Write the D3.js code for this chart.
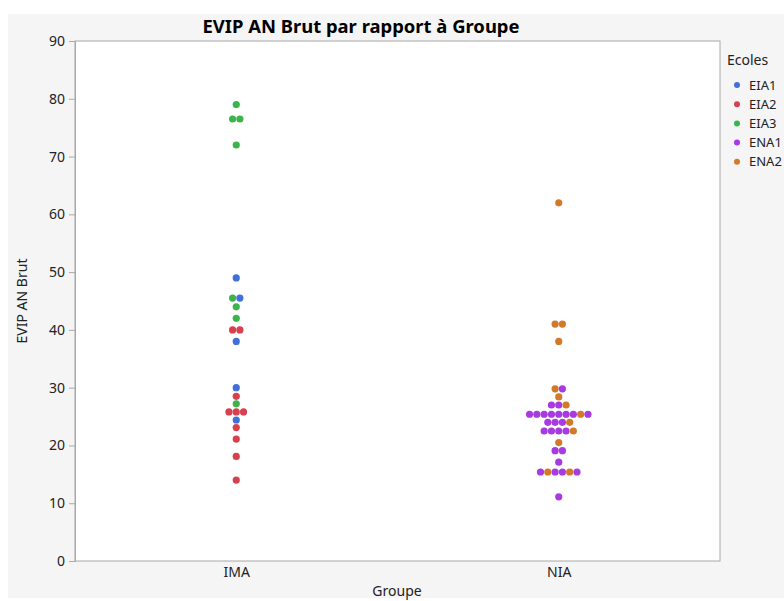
<!DOCTYPE html>
<html>
<head>
<meta charset="utf-8">
<script src="https://cdn.jsdelivr.net/npm/d3@7"></script>
<style>
  html, body { margin: 0; padding: 0; background: #ffffff; }
  svg { display: block; font-family: "Noto Sans", "Open Sans", sans-serif; }
</style>
</head>
<body>
<svg id="chart" width="784" height="601"></svg>
<script>
// Groups on the x axis and the schools used for colour
const groups = ["IMA", "NIA"];
const schools = ["EIA1", "EIA2", "EIA3", "ENA1", "ENA2"];
const schoolColors = ["#4070d8", "#d6404f", "#3cb44b", "#a73ae0", "#d27a2a"];
const yTicks = [0, 10, 20, 30, 40, 50, 60, 70, 80, 90];

// EVIP AN Brut scores, group IMA (value and school, row by row)
const imaValues = [79, 76.5, 76.5, 72, 49, 45.5, 45.5, 44, 42, 40, 40, 38,
                   30, 28.5, 27.2, 25.8, 25.8, 25.8, 24.4, 23.1, 21.1, 18.1, 14];
const imaSchools = ["EIA3", "EIA3", "EIA3", "EIA3", "EIA1", "EIA3", "EIA1", "EIA3", "EIA3", "EIA2", "EIA2", "EIA1",
                    "EIA1", "EIA2", "EIA3", "EIA2", "EIA2", "EIA2", "EIA1", "EIA2", "EIA2", "EIA2", "EIA2"];

// EVIP AN Brut scores, group NIA
const niaValues = [62, 41, 41, 38, 29.8, 29.8, 28.4, 27, 27, 27,
                   25.4, 25.4, 25.4, 25.4, 25.4, 25.4, 25.4, 25.4, 25.4,
                   24, 24, 24, 24, 22.5, 22.5, 22.5, 22.5, 22.5,
                   20.5, 19.1, 19.1, 17.1,
                   15.4, 15.4, 15.4, 15.4, 15.4, 15.4, 11.1];
const niaSchools = ["ENA2", "ENA2", "ENA2", "ENA2", "ENA2", "ENA1", "ENA2", "ENA1", "ENA1", "ENA2",
                    "ENA1", "ENA1", "ENA1", "ENA1", "ENA1", "ENA1", "ENA1", "ENA2", "ENA1",
                    "ENA1", "ENA1", "ENA1", "ENA2", "ENA1", "ENA1", "ENA1", "ENA1", "ENA2",
                    "ENA2", "ENA1", "ENA1", "ENA1",
                    "ENA1", "ENA2", "ENA1", "ENA1", "ENA2", "ENA1", "ENA1"];

const svg = d3.select("#chart");
const W = 784, H = 601;
const plot = { left: 75, right: 720, top: 41, bottom: 561 };
const dotR = 3.6, dotStep = 7.3;

// Light grey report panel behind everything
svg.append("rect").attr("x", 8).attr("y", 14).attr("width", W - 8).attr("height", 584)
  .attr("fill", "#f5f5f5");

const x = d3.scalePoint().domain(groups).range([plot.left, plot.right]).padding(0.5);
const y = d3.scaleLinear().domain([0, 90]).range([plot.bottom, plot.top]);
const color = d3.scaleOrdinal().domain(schools).range(schoolColors);

// Plot frame
svg.append("rect")
  .attr("x", plot.left).attr("y", plot.top)
  .attr("width", plot.right - plot.left).attr("height", plot.bottom - plot.top)
  .attr("fill", "#ffffff").attr("stroke", "#a8a8a8").attr("stroke-width", 1);

// Y axis
const yAxis = svg.append("g").attr("transform", `translate(${plot.left},0)`)
  .call(d3.axisLeft(y).tickValues(yTicks).tickSize(6).tickPadding(4));
yAxis.select(".domain").attr("stroke", "#a8a8a8");
yAxis.selectAll(".tick line").attr("stroke", "#a8a8a8");
yAxis.selectAll(".tick text").attr("fill", "#222").style("font-size", "14px")
  .style("font-family", "'Noto Sans', sans-serif");

// X axis
const xAxis = svg.append("g").attr("transform", `translate(0,${plot.bottom})`)
  .call(d3.axisBottom(x).tickSize(0).tickPadding(6));
xAxis.select(".domain").remove();
xAxis.selectAll(".tick text").attr("fill", "#222").style("font-size", "14px")
  .style("font-family", "'Noto Sans', sans-serif");

// Build points: equal values in a group share a row, spread side by side
function layout(group, values, codes) {
  const rows = d3.group(values.map((v, i) => ({ v, s: codes[i] })), d => d.v);
  const pts = [];
  for (const [v, items] of rows) {
    items.forEach((d, i) => {
      pts.push({ group, value: v, school: d.s, offset: (i - (items.length - 1) / 2) * dotStep });
    });
  }
  return pts;
}
const points = layout("IMA", imaValues, imaSchools).concat(layout("NIA", niaValues, niaSchools));

svg.append("g").selectAll("circle").data(points).join("circle")
  .attr("cx", d => x(d.group) + d.offset)
  .attr("cy", d => y(d.value))
  .attr("r", dotR)
  .attr("fill", d => color(d.school));

// Title
svg.append("text").attr("x", 361).attr("y", 33).attr("text-anchor", "middle")
  .style("font-size", "18px").style("font-weight", "bold").attr("fill", "#000")
  .style("font-family", "'Noto Sans', sans-serif")
  .attr("textLength", 317).attr("lengthAdjust", "spacingAndGlyphs")
  .text("EVIP AN Brut par rapport à Groupe");

// Axis titles
svg.append("text").attr("x", 397).attr("y", 596).attr("text-anchor", "middle")
  .style("font-size", "14px").attr("fill", "#222").text("Groupe");
svg.append("text").attr("transform", "translate(27,301) rotate(-90)").attr("text-anchor", "middle")
  .style("font-size", "14px").attr("fill", "#222").text("EVIP AN Brut");

// Legend
const legend = svg.append("g").attr("transform", "translate(727,0)");
legend.append("text").attr("x", 0).attr("y", 65).style("font-size", "14px").attr("fill", "#222").text("Ecoles");
schools.forEach((s, i) => {
  const cy = 85 + i * 19.2;
  legend.append("circle").attr("cx", 10).attr("cy", cy).attr("r", 3).attr("fill", color(s));
  legend.append("text").attr("x", 22).attr("y", cy + 4.5).style("font-size", "13px").attr("fill", "#222").text(s);
});
</script>
</body>
</html>
